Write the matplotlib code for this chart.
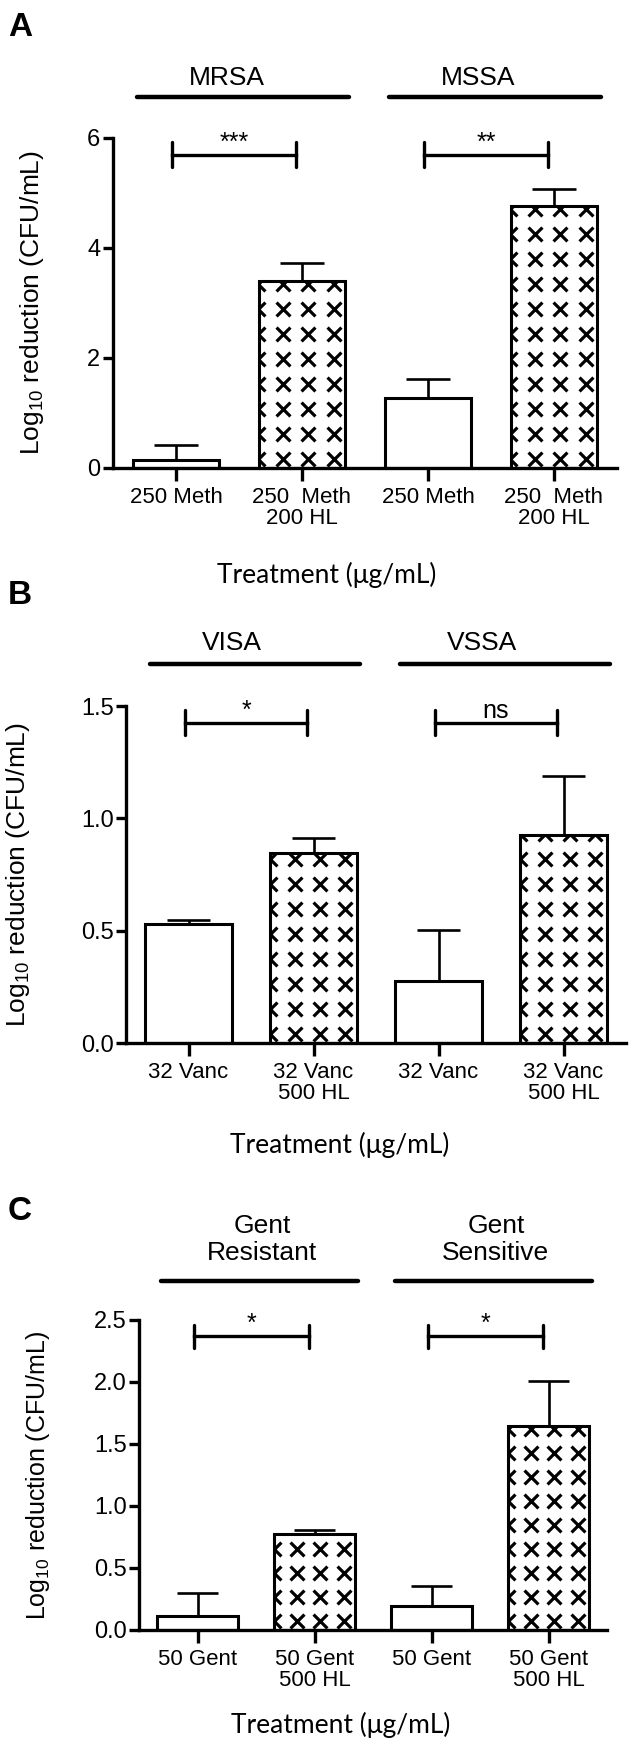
import numpy as np
import matplotlib.pyplot as plt

plt.rcParams['font.family'] = ['Liberation Sans', 'DejaVu Sans']
plt.rcParams['mathtext.fontset'] = 'custom'
plt.rcParams['mathtext.rm'] = 'Liberation Sans'

# ---- data ----
# A: methicillin
a_labels = ['250 Meth', '250  Meth\n200 HL', '250 Meth', '250  Meth\n200 HL']
a_mean = [0.15, 3.40, 1.27, 4.77]
a_sem = [0.27, 0.32, 0.35, 0.30]
a_groups = ['MRSA', 'MSSA']
a_sig = ['***', '**']
a_yticks = [0, 2, 4, 6]

# B: vancomycin
b_labels = ['32 Vanc', '32 Vanc\n500 HL', '32 Vanc', '32 Vanc\n500 HL']
b_mean = [0.53, 0.845, 0.275, 0.925]
b_sem = [0.018, 0.067, 0.228, 0.265]
b_groups = ['VISA', 'VSSA']
b_sig = ['*', 'ns']
b_yticks = [0.0, 0.5, 1.0, 1.5]

# C: gentamicin
c_labels = ['50 Gent', '50 Gent\n500 HL', '50 Gent', '50 Gent\n500 HL']
c_mean = [0.11, 0.775, 0.19, 1.645]
c_sem = [0.19, 0.035, 0.165, 0.36]
c_groups = ['Gent\nResistant', 'Gent\nSensitive']
c_sig = ['*', '*']
c_yticks = [0.0, 0.5, 1.0, 1.5, 2.0, 2.5]

hatched = [False, True, False, True]

W, H = 634, 1748
fig = plt.figure(figsize=(W / 100, H / 100), dpi=100)


def add_crosses(ax, bar, ppu, step, base):
    # little x's inside the bar, clipped to it
    xc = bar.get_x() + bar.get_width() / 2
    cols = xc + np.array([-0.35, -0.15, 0.05, 0.25])
    rows = np.arange(base, bar.get_height() * ppu + step, step) / ppu
    X, Y = np.meshgrid(cols, rows)
    sc = ax.scatter(X.ravel(), Y.ravel(), marker='x', s=100, c='black',
                    linewidths=2.3, zorder=3)
    sc.set_clip_path(bar)


def panel(rect, labels, mean, sem, groups, sig, yticks, fmt, lay):
    ax = fig.add_axes(rect)
    x = np.arange(len(mean))
    mean = np.array(mean)
    sem = np.array(sem)
    ymax = yticks[-1]
    ppu = rect[3] * H / ymax

    fills = ax.bar(x, mean, width=0.69, color='white', edgecolor='none', zorder=2)
    for i, b in enumerate(fills):
        if hatched[i]:
            add_crosses(ax, b, ppu, lay['step'], 9)
    ax.bar(x, mean, width=0.69, fill=False, edgecolor='black', linewidth=2.2, zorder=4)
    ax.vlines(x, mean, mean + sem, color='black', linewidth=1.9, zorder=1)
    ax.hlines(mean + sem, x - 0.175, x + 0.175, color='black', linewidth=1.9, zorder=1)

    ax.set_xlim(-0.5, 3.5)
    ax.set_ylim(0, ymax)
    ax.set_xticks(x)
    ax.set_xticklabels(labels)
    for t in ax.get_xticklabels():
        t.set_linespacing(1.0)
    ax.set_yticks(yticks)
    ax.set_yticklabels([fmt % v for v in yticks])
    for s in ['top', 'right']:
        ax.spines[s].set_visible(False)
    for s in ['left', 'bottom']:
        ax.spines[s].set_linewidth(2.4)
        ax.spines[s].set_capstyle('projecting')
    ax.tick_params(axis='y', length=7, width=2.4, pad=2, labelsize=17)
    ax.tick_params(axis='x', length=9, width=2.4, pad=5, labelsize=16)

    ax.set_ylabel(r'Log$_\mathregular{10}$ reduction (CFU/mL)', fontsize=lay['ylfs'])
    ax.yaxis.label.set_va('center')
    ax.yaxis.set_label_coords(lay['ylx'], 0.5)

    tick = 0.037 * ymax
    for k, (name, star) in enumerate(zip(groups, sig)):
        c = 2 * k + 0.5
        ax.plot([c + 0.03 - 0.84, c + 0.03 + 0.84], [lay['gline']] * 2, color='black',
                linewidth=3.2, solid_capstyle='round', clip_on=False)
        ax.text(c + lay['gdx'], lay['gtext'], name, fontsize=19, ha='center',
                va='center', linespacing=1.15)
        x0, x1 = 2 * k - 0.03, 2 * k + 0.95
        by = lay['brk']
        ax.plot([x0, x1], [by, by], color='black', linewidth=2.4, clip_on=False)
        ax.plot([x0, x0], [by - tick, by + tick], color='black', linewidth=2.4,
                solid_capstyle='round', clip_on=False)
        ax.plot([x1, x1], [by - tick, by + tick], color='black', linewidth=2.4,
                solid_capstyle='round', clip_on=False)
        ax.text((x0 + x1) / 2, by, star, fontsize=18, ha='center', va='bottom')

    fig.text(lay['tx'] / W, 1 - lay['ty'] / H, 'Treatment (\u03bcg/mL)',
             family=['Lato', 'DejaVu Sans'], fontsize=19, ha='center', va='center')
    fig.text(8 / W, 1 - lay['ly'] / H, lay['letter'], fontsize=24,
             fontweight='bold', ha='left', va='center')
    return ax


panel([113 / W, 1 - 468 / H, 504 / W, 330 / H], a_labels, a_mean, a_sem, a_groups,
      a_sig, a_yticks, '%d',
      dict(step=25, ylfs=19, ylx=-0.161, gline=6.75, gtext=7.09, gdx=-0.1,
           brk=5.7, tx=327, ty=575, ly=28, letter='A'))
panel([126 / W, 1 - 1043 / H, 500 / W, 337 / H], b_labels, b_mean, b_sem, b_groups,
      b_sig, b_yticks, '%.1f',
      dict(step=25, ylfs=19, ylx=-0.216, gline=1.686, gtext=1.78, gdx=-0.15,
           brk=1.425, tx=340, ty=1145, ly=595, letter='B'))
panel([139 / W, 1 - 1630 / H, 468 / W, 310 / H], c_labels, c_mean, c_sem, c_groups,
      c_sig, c_yticks, '%.1f',
      dict(step=24, ylfs=18, ylx=-0.216, gline=2.815, gtext=3.15, gdx=0.05,
           brk=2.37, tx=341, ty=1725, ly=1212, letter='C'))

fig.savefig('out.png', dpi=100)
